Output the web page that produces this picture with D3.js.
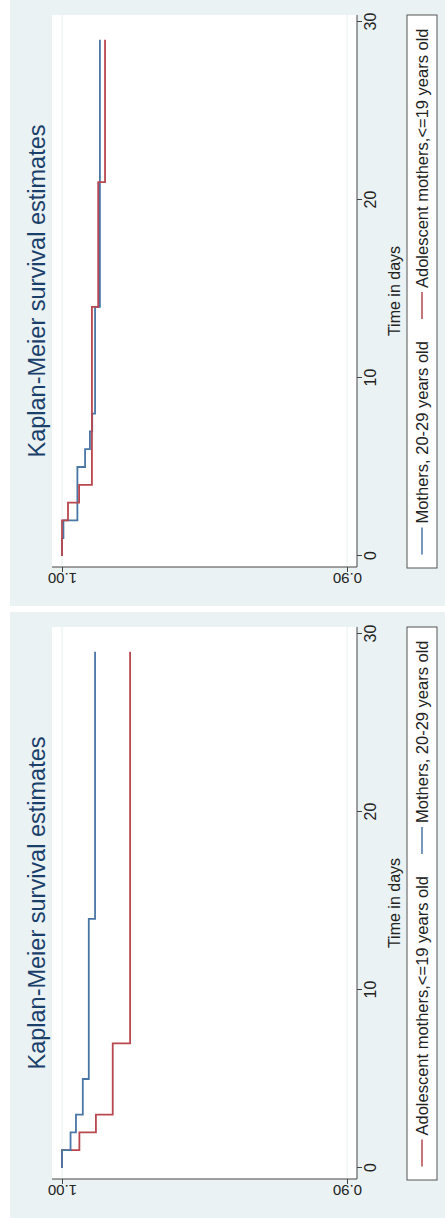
<!DOCTYPE html>
<html>
<head>
  <meta charset="utf-8">
  <title>Kaplan-Meier survival estimates</title>
  <script src="https://d3js.org/d3.v7.min.js"></script>
  <style>
    body { margin: 0; background: #fff; }
    text { font-family: "Liberation Sans", Arial, sans-serif; }
  </style>
</head>
<body>
  <div id="chart"></div>
  <script>
    // survival steps (time in days, estimate)
    var topBlueTimes = [0, 1, 2, 5, 6, 7, 8, 14, 29];
    var topBlueSurv  = [1, 0.9995, 0.9946, 0.9919, 0.9902, 0.9894, 0.9884, 0.9867, 0.9867];
    var topRedTimes  = [0, 2, 3, 4, 14, 21, 29];
    var topRedSurv   = [1, 0.9979, 0.9940, 0.9895, 0.9873, 0.9849, 0.9849];

    var bottomBlueTimes = [0, 1, 2, 3, 5, 14, 29];
    var bottomBlueSurv  = [1, 0.9970, 0.9951, 0.9927, 0.9906, 0.9884, 0.9884];
    var bottomRedTimes  = [0, 1, 2, 3, 7, 29];
    var bottomRedSurv   = [1, 0.9939, 0.9881, 0.9822, 0.9761, 0.9761];

    var timeTicks = [0, 10, 20, 30];
    var survTicks = [1.00, 0.90];
    var blueName = "Mothers, 20-29 years old";
    var redName = "Adolescent mothers,<=19 years old";
    var titleText = "Kaplan-Meier survival estimates";

    var blue = "#4a76a6", red = "#b9474f";

    var svg = d3.select("#chart")
      .append("svg")
      .attr("width", 445)
      .attr("height", 1218);

    // each panel is drawn upright in a 606 x 435 frame, then turned 90 deg anticlockwise
    var W = 606, H = 435;

    function drawPanel(y0, series) {
      svg.append("rect")
        .attr("x", 10).attr("y", y0)
        .attr("width", H).attr("height", W)
        .attr("fill", "#eaf2f3");

      var g = svg.append("g")
        .attr("transform", "translate(10," + (y0 + W) + ") rotate(-90)");

      var plot = {left: 39, right: 591, top: 42, bottom: 347};

      var x = d3.scaleLinear().domain([0, 30]).range([50, 584]);
      var y = d3.scaleLinear().domain([0.9, 1]).range([337, 52]);

      g.append("rect")
        .attr("x", plot.left).attr("y", plot.top)
        .attr("width", plot.right - plot.left)
        .attr("height", plot.bottom - plot.top)
        .attr("fill", "#fff");

      // light gridlines
      g.selectAll(".grid")
        .data(survTicks)
        .enter()
        .append("line")
        .attr("x1", plot.left).attr("x2", plot.right)
        .attr("y1", function(d) { return y(d); })
        .attr("y2", function(d) { return y(d); })
        .attr("stroke", "#e6eff1")
        .attr("stroke-width", 1);

      // time axis (bottom of the upright frame)
      var xAxis = g.append("g")
        .attr("transform", "translate(0," + plot.bottom + ")")
        .call(d3.axisBottom(x).tickValues(timeTicks).tickSize(5).tickPadding(3).tickSizeOuter(0));
      xAxis.select(".domain").attr("d", "M" + plot.left + ",0H" + plot.right);
      xAxis.selectAll("line, path").attr("stroke", "#444");
      xAxis.selectAll("text")
        .attr("font-size", 16)
        .attr("fill", "#222");

      // survival axis, labels turned like Stata's default
      var yAxis = g.append("g")
        .attr("transform", "translate(" + plot.left + ",0)")
        .call(d3.axisLeft(y).tickValues(survTicks).tickFormat(d3.format(".2f")).tickSize(5).tickSizeOuter(0));
      yAxis.select(".domain").attr("d", "M0," + plot.top + "V" + plot.bottom);
      yAxis.selectAll("line, path").attr("stroke", "#444");
      yAxis.selectAll("text")
        .attr("x", null).attr("dy", null)
        .attr("transform", "translate(-6,0) rotate(-90)")
        .attr("text-anchor", "middle")
        .attr("font-size", 15)
        .attr("fill", "#222");

      var line = d3.line()
        .x(function(d) { return x(d[0]); })
        .y(function(d) { return y(d[1]); })
        .curve(d3.curveStepAfter);

      series.forEach(function(s) {
        g.append("path")
          .datum(d3.zip(s.times, s.surv))
          .attr("d", line)
          .attr("fill", "none")
          .attr("stroke", s.color)
          .attr("stroke-width", 1.8);
      });

      // titles
      var mid = (plot.left + plot.right) / 2;
      g.append("text")
        .attr("x", mid).attr("y", 35)
        .attr("text-anchor", "middle")
        .attr("font-size", 23.5)
        .attr("fill", "#1a3f6b")
        .text(titleText);

      g.append("text")
        .attr("x", mid).attr("y", 390)
        .attr("text-anchor", "middle")
        .attr("font-size", 16)
        .attr("fill", "#222")
        .text("Time in days");

      // legend
      var leg = g.append("g");
      leg.append("rect")
        .attr("x", 38).attr("y", 397)
        .attr("width", 553).attr("height", 30)
        .attr("fill", "#fff")
        .attr("stroke", "#555")
        .attr("stroke-width", 1);

      var items = leg.selectAll(".item")
        .data(series)
        .enter()
        .append("g");
      items.append("line")
        .attr("stroke", function(d) { return d.color; })
        .attr("stroke-width", 1.5)
        .attr("y1", 412).attr("y2", 412);
      items.append("text")
        .attr("y", 418)
        .attr("font-size", 16.5)
        .attr("fill", "#222")
        .text(function(d) { return d.name; });

      // lay the keys out in a row, centred in the box
      var keyLen = 27, gap = 4, space = 22;
      var widths = [];
      items.select("text").each(function() { widths.push(this.getComputedTextLength()); });
      var total = d3.sum(widths) + series.length * (keyLen + gap) + space * (series.length - 1);
      var pos = 38 + (553 - total) / 2;
      items.each(function(d, i) {
        var it = d3.select(this);
        it.select("line").attr("x1", pos).attr("x2", pos + keyLen);
        it.select("text").attr("x", pos + keyLen + gap);
        pos += keyLen + gap + widths[i] + space;
      });
    }

    drawPanel(0, [
      {name: blueName, color: blue, times: topBlueTimes, surv: topBlueSurv},
      {name: redName, color: red, times: topRedTimes, surv: topRedSurv}
    ]);

    drawPanel(612, [
      {name: redName, color: red, times: bottomRedTimes, surv: bottomRedSurv},
      {name: blueName, color: blue, times: bottomBlueTimes, surv: bottomBlueSurv}
    ]);
  </script>
</body>
</html>
